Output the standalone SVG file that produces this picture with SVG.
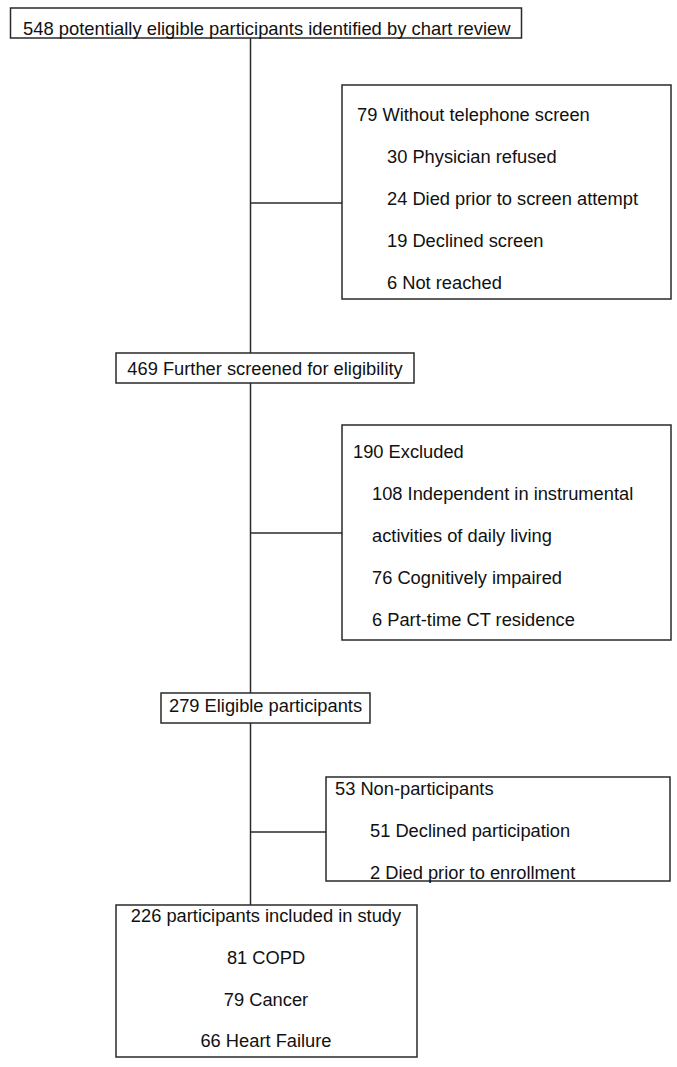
<svg xmlns="http://www.w3.org/2000/svg" width="677" height="1067" viewBox="0 0 677 1067">
<style>
.box{fill:#fff;stroke:#2a2a2a;stroke-width:1.5}
.ln{stroke:#2a2a2a;stroke-width:1.5;fill:none}
text{font-family:"Liberation Sans",Arial,sans-serif;font-size:18.3px;fill:#111}
.mid{text-anchor:middle}
</style>
<rect width="677" height="1067" fill="#fff"/>
<g id="connectors">
<line class="ln" x1="250.5" y1="38" x2="250.5" y2="353"/>
<line class="ln" x1="250.5" y1="383" x2="250.5" y2="693"/>
<line class="ln" x1="250.5" y1="723" x2="250.5" y2="905"/>
<line class="ln" x1="250.5" y1="203" x2="342" y2="203"/>
<line class="ln" x1="250.5" y1="533" x2="342" y2="533"/>
<line class="ln" x1="250.5" y1="832" x2="326" y2="832"/>
</g>
<g id="n1">
<rect class="box" x="10.5" y="8" width="511" height="30"/>
<text x="23" y="35" style="font-size:18.4px">548 potentially eligible participants identified by chart review</text>
</g>
<g id="n2">
<rect class="box" x="342" y="85" width="329" height="214"/>
<text x="357" y="121">79 Without telephone screen</text>
<text x="387" y="163">30 Physician refused</text>
<text x="387" y="205">24 Died prior to screen attempt</text>
<text x="387" y="247">19 Declined screen</text>
<text x="387" y="289">6 Not reached</text>
</g>
<g id="n3">
<rect class="box" x="116" y="353" width="298" height="30"/>
<text class="mid" x="265" y="375">469 Further screened for eligibility</text>
</g>
<g id="n4">
<rect class="box" x="342" y="425" width="329" height="215"/>
<text x="353" y="458">190 Excluded</text>
<text x="372" y="500">108 Independent in instrumental</text>
<text x="372" y="542">activities of daily living</text>
<text x="372" y="584">76 Cognitively impaired</text>
<text x="372" y="626">6 Part-time CT residence</text>
</g>
<g id="n5">
<rect class="box" x="161" y="693" width="209" height="30"/>
<text x="169" y="712">279 Eligible participants</text>
</g>
<g id="n6">
<rect class="box" x="326" y="777" width="344" height="104"/>
<text x="335" y="795">53 Non-participants</text>
<text x="370" y="837">51 Declined participation</text>
<text x="370" y="879">2 Died prior to enrollment</text>
</g>
<g id="n7">
<rect class="box" x="116" y="905" width="301" height="152"/>
<text class="mid" x="266" y="922">226 participants included in study</text>
<text class="mid" x="266" y="964">81 COPD</text>
<text class="mid" x="266" y="1006">79 Cancer</text>
<text class="mid" x="266" y="1047">66 Heart Failure</text>
</g>
</svg>
